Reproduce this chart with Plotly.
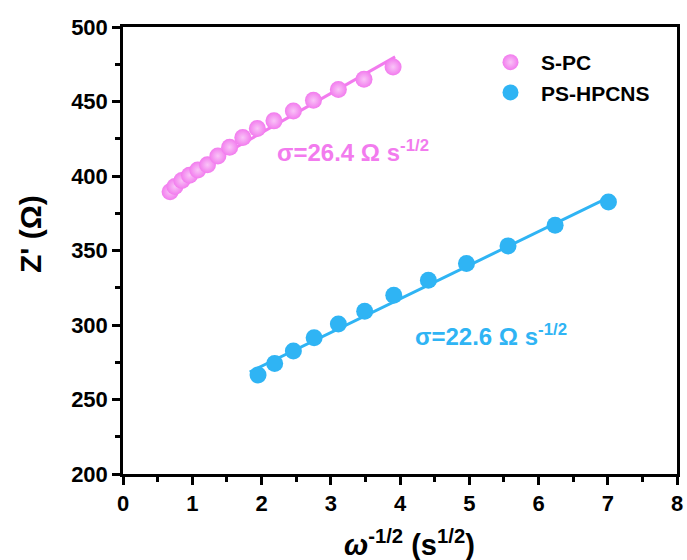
import plotly.graph_objects as go

# Warburg plots: Z' versus omega^-1/2
spc_x = [0.68, 0.75, 0.85, 0.96, 1.08, 1.22, 1.37, 1.54, 1.73, 1.94,
         2.18, 2.46, 2.75, 3.11, 3.48, 3.90]
spc_y = [389.5, 393.0, 397.0, 400.5, 404.0, 407.5, 413.5, 419.3, 425.8, 431.9,
         437.0, 443.7, 450.8, 458.0, 464.9, 473.2]

hpcns_x = [1.95, 2.19, 2.46, 2.76, 3.11, 3.49, 3.91, 4.41, 4.96, 5.56, 6.24, 7.01]
hpcns_y = [266.4, 274.2, 282.5, 291.4, 300.6, 309.3, 320.0, 330.0, 341.3, 353.1,
           367.0, 382.6]

# Linear fits: slope = Warburg coefficient sigma
spc_sigma = 26.4
spc_intercept = 376.2
spc_fit_x = [0.62, 3.93]

hpcns_sigma = 22.6
hpcns_intercept = 227.1
hpcns_fit_x = [1.83, 7.03]

x_ticks = [0, 1, 2, 3, 4, 5, 6, 7, 8]
y_ticks = [200, 250, 300, 350, 400, 450, 500]

PINK = "#F27BEE"
PINK_LIGHT = "#F9C4F7"
BLUE = "#2FB4F4"
FONT = "Liberation Sans, Arial, sans-serif"

L, R, T, B = 123, 677, 27, 474
W, H = 687, 560


def px_to_paper(px, py):
    return (px - L) / (R - L), (B - py) / (B - T)


fig = go.Figure()

fig.add_trace(go.Scatter(
    x=spc_fit_x, y=[spc_sigma * v + spc_intercept for v in spc_fit_x],
    mode="lines", line=dict(color=PINK, width=3), showlegend=False, hoverinfo="skip"))
fig.add_trace(go.Scatter(
    x=hpcns_fit_x, y=[hpcns_sigma * v + hpcns_intercept for v in hpcns_fit_x],
    mode="lines", line=dict(color=BLUE, width=3), showlegend=False, hoverinfo="skip"))

fig.add_trace(go.Scatter(
    x=spc_x, y=spc_y, mode="markers", name="S-PC", legendgroup="a",
    marker=dict(size=17, color=PINK, line=dict(width=0),
                gradient=dict(type="radial", color=PINK_LIGHT))))
fig.add_trace(go.Scatter(
    x=hpcns_x, y=hpcns_y, mode="markers", name="PS-HPCNS", legendgroup="b",
    marker=dict(size=17, color=BLUE, line=dict(width=0))))

# sigma labels
for txt, col, (px, py) in [
    (f"<b>σ={spc_sigma} Ω s<sup>-1/2</sup></b>", PINK, (275, 151)),
    (f"<b>σ={hpcns_sigma} Ω s<sup>-1/2</sup></b>", BLUE, (413, 335)),
]:
    ax, ay = px_to_paper(px, py)
    fig.add_annotation(x=ax, y=ay, xref="paper", yref="paper", showarrow=False,
                       xanchor="left", yanchor="middle", text=txt,
                       font=dict(family=FONT, size=24, color=col))

# axis titles
tx, ty = px_to_paper(409, 543)
fig.add_annotation(x=tx, y=ty, xref="paper", yref="paper", showarrow=False,
                   xanchor="center", yanchor="middle",
                   text="<b><i>ω</i><sup>-1/2</sup> (s<sup>1/2</sup>)</b>",
                   font=dict(family=FONT, size=29, color="black"))
tx, ty = px_to_paper(30, 234)
fig.add_annotation(x=tx, y=ty, xref="paper", yref="paper", showarrow=False,
                   xanchor="center", yanchor="middle", textangle=-90,
                   text="<b>Z' (Ω)</b>",
                   font=dict(family=FONT, size=30, color="black"))

axis_common = dict(
    showline=True, linecolor="black", linewidth=2.5, mirror=True,
    ticks="outside", ticklen=8, tickwidth=2.5, tickcolor="black",
    showgrid=False, zeroline=False, automargin=False,
    tickfont=dict(family=FONT, size=22, color="black", weight="bold"),
)

fig.update_xaxes(range=[0, 8], tickvals=x_ticks,
                 minor=dict(ticks="outside", ticklen=5, tickwidth=2.5, dtick=0.5,
                            tickcolor="black", showgrid=False),
                 **axis_common)
fig.update_yaxes(range=[200, 500], tickvals=y_ticks,
                 minor=dict(ticks="outside", ticklen=5, tickwidth=2.5, dtick=25,
                            tickcolor="black", showgrid=False),
                 **axis_common)

lx, ly = px_to_paper(480, 42)
fig.update_layout(
    width=W, height=H,
    margin=dict(l=L, r=W - R, t=T, b=H - B),
    plot_bgcolor="white", paper_bgcolor="white",
    legend=dict(x=lx, y=ly, xanchor="left", yanchor="top",
                font=dict(family=FONT, size=21, color="black", weight="bold"),
                bgcolor="rgba(0,0,0,0)", itemsizing="trace", tracegroupgap=0,
                itemwidth=51),
)

fig.write_html("out.html")
